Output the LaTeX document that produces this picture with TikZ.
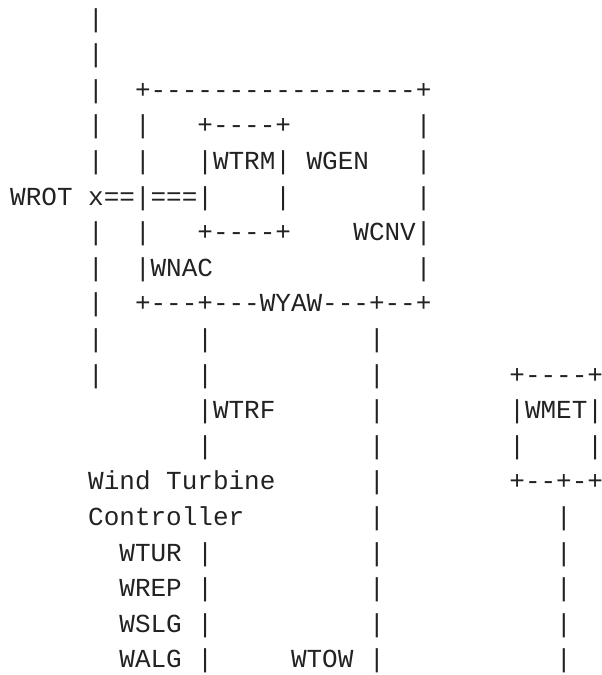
\documentclass[tikz,border=0pt]{standalone}
\usepackage{fontspec}
\setmonofont{Liberation Mono}
\definecolor{ink}{HTML}{222222}
\tikzset{
  glyphs/.style={anchor=base west, inner sep=0pt, outer sep=0pt,
    font=\ttfamily\fontsize{19.5pt}{20pt}\selectfont, text=ink}
}
% #1 name, #2 column, #3 row, #4 text
\newcommand\cell[4]{\node[glyphs] (#1) at ({10.2+15.6*#2},{27+35.6*#3}) {#4};}
\begin{document}
\begin{tikzpicture}[x=0.75pt,y=-0.75pt]
\useasboundingbox (0,0) rectangle (601,675);
% left vertical line
\cell{l0}{5}{0}{|}
\cell{l1}{5}{1}{|}
\cell{l2}{5}{2}{|}
\cell{l3}{5}{3}{|}
\cell{l4}{5}{4}{|}
\cell{l6}{5}{6}{|}
\cell{l7}{5}{7}{|}
\cell{l8}{5}{8}{|}
\cell{l9}{5}{9}{|}
\cell{l10}{5}{10}{|}
% nacelle box
\cell{nacTop}{8}{2}{+-----------------+}
\cell{nacL3}{8}{3}{|}
\cell{nacL4}{8}{4}{|}
\cell{nacL6}{8}{6}{|}
\cell{nacR3}{26}{3}{|}
\cell{nacR4}{26}{4}{|}
\cell{nacR5}{26}{5}{|}
\cell{nacR7}{26}{7}{|}
\cell{wnac}{8}{7}{|WNAC}
\cell{nacBot}{8}{8}{+---+---WYAW---+--+}
% transmission box
\cell{trmTop}{12}{3}{+----+}
\cell{wtrm}{12}{4}{|WTRM|}
\cell{trmMid}{17}{5}{|}
\cell{trmBot}{12}{6}{+----+}
\cell{wgen}{19}{4}{WGEN}
\cell{wcnv}{22}{6}{WCNV|}
% rotor
\cell{wrot}{0}{5}{WROT}
\cell{shaft}{5}{5}{x==|===|}
% transformer line
\cell{t9}{12}{9}{|}
\cell{t10}{12}{10}{|}
\cell{wtrf}{12}{11}{|WTRF}
\cell{t12}{12}{12}{|}
% controller
\cell{wt1}{5}{13}{Wind Turbine}
\cell{wt2}{5}{14}{Controller}
\cell{wtur}{7}{15}{WTUR |}
\cell{wrep}{7}{16}{WREP |}
\cell{wslg}{7}{17}{WSLG |}
\cell{walg}{7}{18}{WALG |}
% tower line
\cell{w9}{23}{9}{|}
\cell{w10}{23}{10}{|}
\cell{w11}{23}{11}{|}
\cell{w12}{23}{12}{|}
\cell{w13}{23}{13}{|}
\cell{w14}{23}{14}{|}
\cell{w15}{23}{15}{|}
\cell{w16}{23}{16}{|}
\cell{w17}{23}{17}{|}
\cell{wtow}{18}{18}{WTOW |}
% met box
\cell{metTop}{32}{10}{+----+}
\cell{wmet}{32}{11}{|WMET|}
\cell{metL}{32}{12}{|}
\cell{metR}{37}{12}{|}
\cell{metBot}{32}{13}{+--+-+}
\cell{m14}{35}{14}{|}
\cell{m15}{35}{15}{|}
\cell{m16}{35}{16}{|}
\cell{m17}{35}{17}{|}
\cell{m18}{35}{18}{|}
\end{tikzpicture}
\end{document}
